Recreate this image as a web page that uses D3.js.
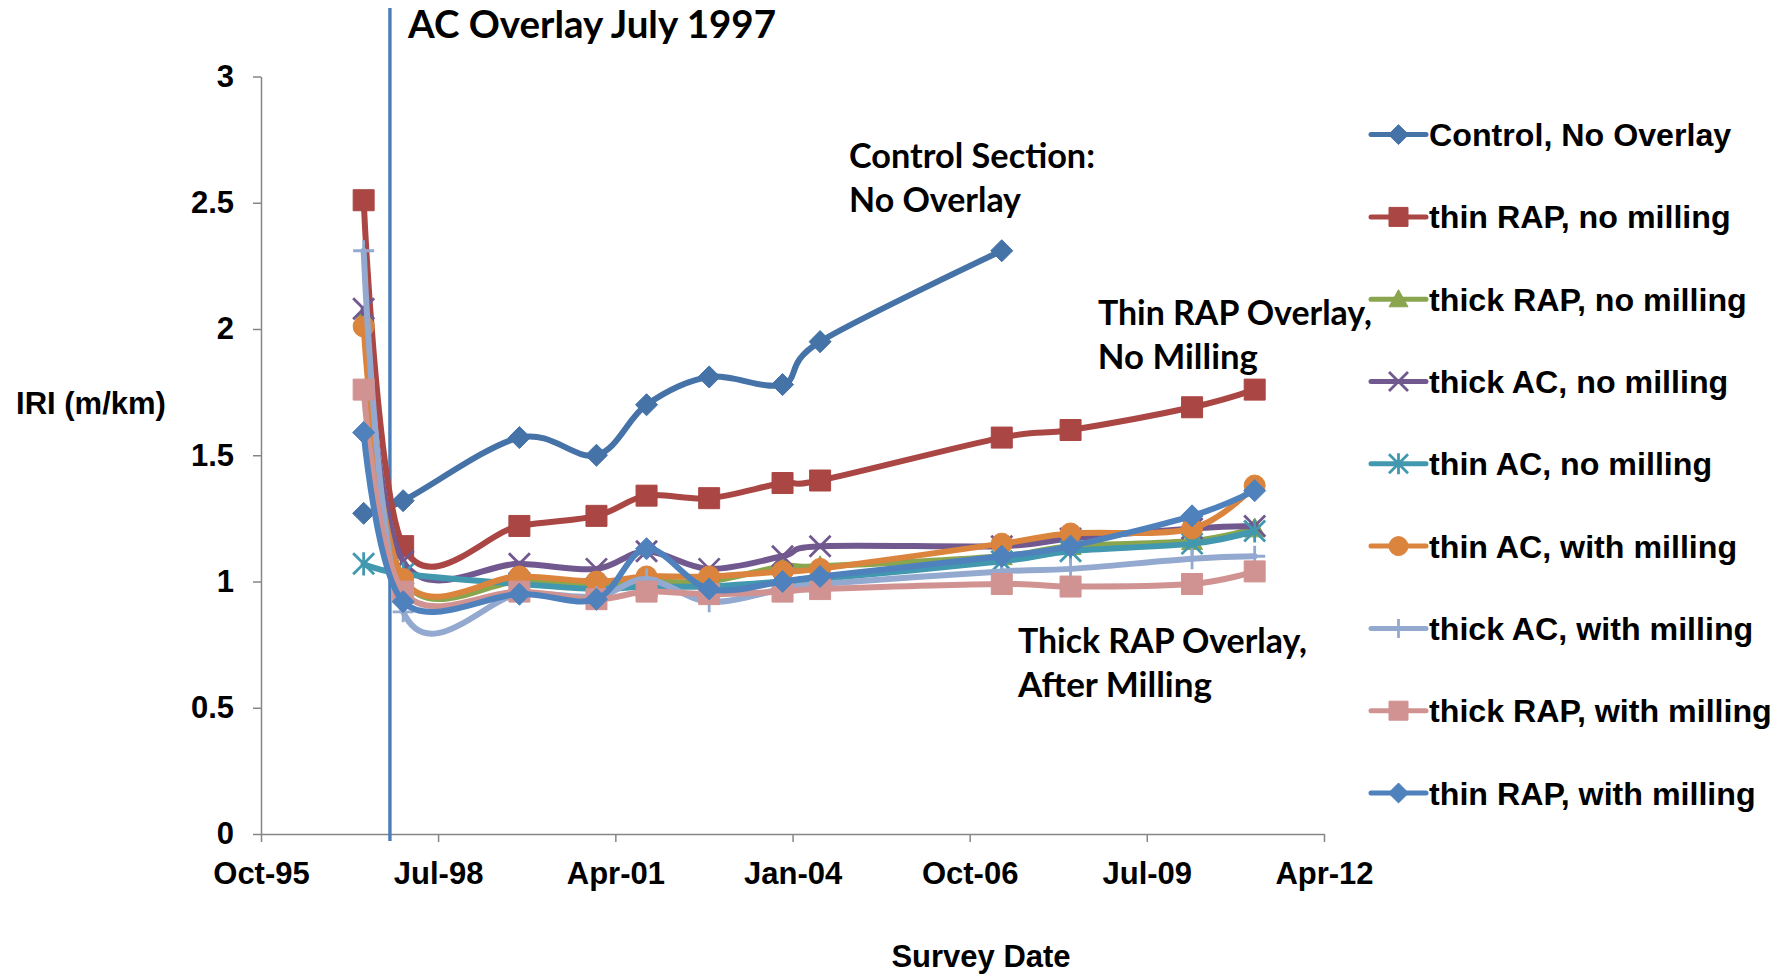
<!DOCTYPE html>
<html>
<head>
<meta charset="utf-8">
<script src="https://cdn.jsdelivr.net/npm/d3@7"></script>
<style>
  html, body { margin: 0; padding: 0; background: #ffffff; }
  svg { display: block; }
</style>
</head>
<body>
<svg id="chart" width="1789" height="974"></svg>
<script>
// Survey dates shared by the overlay sections
const surveyDates = ["1997-05-05", "1997-12-15", "1999-10-05", "2000-12-15", "2001-09-25", "2002-09-15",
                     "2003-11-05", "2004-06-05", "2007-04-01", "2008-04-25", "2010-03-15", "2011-03-05"];

// IRI (m/km) per section
const controlNoOverlay   = [1.27, 1.32, 1.57, 1.50, 1.70, 1.81, 1.78, 1.95, 2.31];
const thinRapNoMilling   = [2.51, 1.14, 1.22, 1.26, 1.34, 1.33, 1.39, 1.40, 1.57, 1.60, 1.69, 1.76];
const thickRapNoMilling  = [2.05, 1.01, 1.00, 0.99, 1.00, 1.00, 1.06, 1.06, 1.10, 1.14, 1.16, 1.21];
const thickAcNoMilling   = [2.08, 1.08, 1.07, 1.05, 1.12, 1.05, 1.10, 1.14, 1.14, 1.17, 1.21, 1.22];
const thinAcNoMilling    = [1.07, 1.03, 0.99, 0.97, 0.98, 0.98, 1.00, 1.01, 1.08, 1.12, 1.15, 1.20];
const thinAcMilling      = [2.01, 1.01, 1.02, 1.00, 1.02, 1.02, 1.04, 1.05, 1.15, 1.19, 1.21, 1.38];
const thickAcMilling     = [2.31, 0.88, 0.95, 0.94, 1.01, 0.92, 0.97, 0.99, 1.04, 1.05, 1.09, 1.10];
const thickRapMilling    = [1.76, 0.96, 0.96, 0.93, 0.96, 0.95, 0.96, 0.97, 0.99, 0.98, 0.99, 1.04];
const thinRapMilling     = [1.59, 0.92, 0.95, 0.93, 1.13, 0.97, 1.00, 1.02, 1.10, 1.14, 1.26, 1.36];

const seriesNames = ["Control, No Overlay", "thin RAP, no milling", "thick RAP, no milling",
                     "thick AC, no milling", "thin AC, no milling", "thin AC, with milling",
                     "thick AC, with milling", "thick RAP, with milling", "thin RAP, with milling"];
const seriesColors = ["#4572A7", "#AA4643", "#89A54E", "#71588F", "#4198AF", "#DB843D",
                      "#93A9CF", "#D19392", "#4F81BD"];
const seriesMarkers = ["diamond", "square", "triangle", "x", "star", "circle", "plus", "square", "diamond"];
const seriesValues = [controlNoOverlay, thinRapNoMilling, thickRapNoMilling, thickAcNoMilling,
                      thinAcNoMilling, thinAcMilling, thickAcMilling, thickRapMilling, thinRapMilling];

// Axis ticks
const xTickLabels = ["Oct-95", "Jul-98", "Apr-01", "Jan-04", "Oct-06", "Jul-09", "Apr-12"];
const yTickValues = [0, 0.5, 1, 1.5, 2, 2.5, 3];

// Overlay construction marker
const overlayDate = "1997-10-01";
const overlayLabel = "AC Overlay July 1997";

// Callout notes: two lines each, anchored at a date / IRI position
const noteLines = [["Control Section:", "No Overlay"], ["Thin RAP Overlay,", "No Milling"],
                   ["Thick RAP Overlay,", "After Milling"]];
const noteDates = ["2004-11-16", "2008-09-27", "2007-07-02"];
const noteIri = [2.638, 2.016, 0.717];

const parseDay = d3.timeParse("%Y-%m-%d");
const parseTick = d3.timeParse("%b-%y");
const fmtTick = d3.timeFormat("%b-%y");

const svg = d3.select("#chart");
svg.append("rect").attr("width", 1789).attr("height", 974).attr("fill", "#fff");

const x = d3.scaleTime()
  .domain([parseTick("Oct-95"), parseTick("Apr-12")])
  .range([261, 1324]);
const y = d3.scaleLinear().domain([0, 3]).range([834, 76.5]);

const AXIS_FONT = "'Liberation Sans', Arial, sans-serif";
const NOTE_FONT = "Lato, 'Open Sans', sans-serif";

// Axes
const yAxis = d3.axisLeft(y).tickValues(yTickValues).tickFormat(d3.format("~g"))
  .tickSize(8).tickSizeOuter(0).tickPadding(19);
const xAxis = d3.axisBottom(x).tickValues(xTickLabels.map(parseTick)).tickFormat(fmtTick)
  .tickSize(8).tickSizeOuter(0).tickPadding(20);

function styleAxis(g) {
  g.select(".domain").attr("stroke", "#868686").attr("stroke-width", 1.5);
  g.selectAll(".tick line").attr("stroke", "#868686").attr("stroke-width", 1.5);
  g.selectAll(".tick text").attr("fill", "#000").attr("font-family", AXIS_FONT)
    .attr("font-weight", "bold").attr("font-size", 31);
}
svg.append("g").attr("transform", "translate(261,0)").call(yAxis).call(styleAxis);
svg.append("g").attr("transform", "translate(0,834)").call(xAxis).call(styleAxis);

// Axis titles
svg.append("text").attr("x", 91).attr("y", 414).attr("text-anchor", "middle")
  .attr("font-family", AXIS_FONT).attr("font-weight", "bold").attr("font-size", 31)
  .text("IRI (m/km)");
svg.append("text").attr("x", 981).attr("y", 967).attr("text-anchor", "middle")
  .attr("font-family", AXIS_FONT).attr("font-weight", "bold").attr("font-size", 31)
  .text("Survey Date");

// Marker shapes, s = nominal width in px
function markerPath(type, s) {
  const h = s / 2;
  switch (type) {
    case "diamond": return `M0,${-h * 1.05}L${h * 1.05},0L0,${h * 1.05}L${-h * 1.05},0Z`;
    case "square": return `M${-h},${-h}H${h}V${h}H${-h}Z`;
    case "triangle": return `M0,${-h}L${h},${h * 0.8}L${-h},${h * 0.8}Z`;
    case "circle": return d3.symbol(d3.symbolCircle, Math.PI * h * h)();
    case "x": return `M${-h},${-h}L${h},${h}M${-h},${h}L${h},${-h}`;
    case "star": return `M${-h},${-h}L${h},${h}M${-h},${h}L${h},${-h}M0,${-h * 1.1}V${h * 1.1}`;
    case "plus": return `M${-h},0H${h}M0,${-h}V${h}`;
  }
}
const strokeOnly = t => t === "x" || t === "star" || t === "plus";

function drawMarker(g, type, color, s) {
  const p = g.append("path").attr("d", markerPath(type, s));
  if (strokeOnly(type)) {
    p.attr("fill", "none").attr("stroke", color).attr("stroke-width", 2.8);
  } else {
    p.attr("fill", color).attr("stroke", color).attr("stroke-width", 1);
  }
}

// Overlay date line
const ox = x(parseDay(overlayDate));
svg.append("line").attr("x1", ox).attr("x2", ox).attr("y1", 8).attr("y2", 841)
  .attr("stroke", "#4A7EBB").attr("stroke-width", 3.4);

// Series
const line = d3.line().curve(d3.curveCardinal.tension(0))
  .x(d => x(d.date)).y(d => y(d.value));

seriesValues.forEach((vals, i) => {
  const pts = vals.map((v, j) => ({ date: parseDay(surveyDates[j]), value: v }));
  const g = svg.append("g");
  g.append("path").datum(pts).attr("d", line).attr("fill", "none")
    .attr("stroke", seriesColors[i]).attr("stroke-width", 6)
    .attr("stroke-linejoin", "round").attr("stroke-linecap", "round");
  pts.forEach(p => {
    const mg = g.append("g").attr("transform", `translate(${x(p.date)},${y(p.value)})`);
    drawMarker(mg, seriesMarkers[i], seriesColors[i], 21);
  });
});

// Annotations
svg.append("text").attr("x", 408).attr("y", 38)
  .attr("font-family", NOTE_FONT).attr("font-weight", "bold").attr("font-size", 38)
  .attr("textLength", 368).attr("lengthAdjust", "spacingAndGlyphs")
  .text(overlayLabel);

const noteWidths = [[246, 172], [274, 160], [289, 194]];
noteLines.forEach((lines, i) => {
  const nx = x(parseDay(noteDates[i])), ny = y(noteIri[i]);
  lines.forEach((t, k) => {
    svg.append("text").attr("x", nx).attr("y", ny + k * 44.5)
      .attr("font-family", NOTE_FONT).attr("font-weight", "bold").attr("font-size", 34)
      .attr("textLength", noteWidths[i][k]).attr("lengthAdjust", "spacingAndGlyphs")
      .text(t);
  });
});

// Legend
const legend = svg.append("g");
seriesNames.forEach((name, i) => {
  const ly = 134.6 + i * 82.3;
  const g = legend.append("g").attr("transform", `translate(0,${ly})`);
  g.append("line").attr("x1", 1371).attr("x2", 1426).attr("y1", 0).attr("y2", 0)
    .attr("stroke", seriesColors[i]).attr("stroke-width", 5).attr("stroke-linecap", "round");
  const mg = g.append("g").attr("transform", "translate(1398.5,0)");
  drawMarker(mg, seriesMarkers[i], seriesColors[i], 19);
  g.append("text").attr("x", 1429).attr("y", 0).attr("dy", "0.36em")
    .attr("font-family", AXIS_FONT).attr("font-weight", "bold").attr("font-size", 32.2)
    .text(name);
});
</script>
</body>
</html>
